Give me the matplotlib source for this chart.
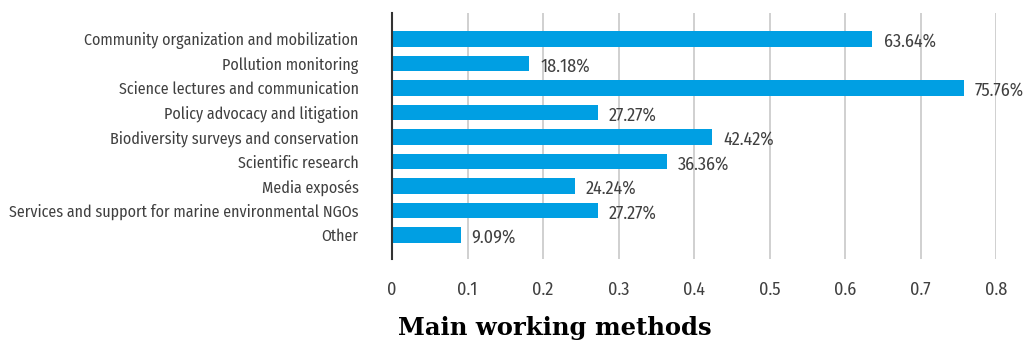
import matplotlib
matplotlib.use("Agg")
import matplotlib.pyplot as plt
from matplotlib import font_manager

categories = [
    "Community organization and mobilization",
    "Pollution monitoring",
    "Science lectures and communication",
    "Policy advocacy and litigation",
    "Biodiversity surveys and conservation",
    "Scientific research",
    "Media exposés",
    "Services and support for marine environmental NGOs",
    "Other",
]
shares = [0.6364, 0.1818, 0.7576, 0.2727, 0.4242, 0.3636, 0.2424, 0.2727, 0.0909]
ticks = [0, 0.1, 0.2, 0.3, 0.4, 0.5, 0.6, 0.7, 0.8]
tick_labels = ["0", "0.1", "0.2", "0.3", "0.4", "0.5", "0.6", "0.7", "0.8"]

fonts = {f.name for f in font_manager.fontManager.ttflist}


def pick(options, default):
    for n in options:
        if n in fonts:
            return n
    return default


narrow = pick(["Fira Sans Condensed", "PT Sans Narrow", "Roboto Condensed",
               "Open Sans Condensed", "Archivo Narrow", "Pragati Narrow"], "DejaVu Sans")

blue = "#009fe3"
txt = "#404040"

fig = plt.figure(figsize=(10.26, 3.43), dpi=100)
ax = fig.add_axes([392 / 1026, 1 - 259 / 343, 604 / 1026, 246 / 343])

y = list(range(len(categories)))
ax.barh(y, shares, height=0.65, color=blue, zorder=3)

# percentage labels just past the end of each bar
for yi, v in zip(y, shares):
    ax.annotate(f"{v * 100:.2f}%", (v, yi), xytext=(8, -2), textcoords="offset points",
                ha="left", va="center", fontsize=13, family=narrow, color=txt,
                annotation_clip=False)

ax.set_xlim(0, 0.8)
ax.set_ylim(8.98, -1.06)
ax.set_xticks(ticks)
ax.set_xticklabels(tick_labels, family=narrow, fontsize=13, color=txt)
ax.set_yticks(y)
ax.set_yticklabels(categories, family=narrow, fontsize=11.5, color=txt)
ax.tick_params(axis="x", length=0, pad=16)
ax.tick_params(axis="y", length=0, pad=24)

ax.grid(axis="x", color="#c8c8c8", linewidth=1.2, zorder=0)
for s in ["top", "right", "bottom"]:
    ax.spines[s].set_visible(False)
ax.spines["left"].set_color("#333333")
ax.spines["left"].set_linewidth(1.5)
ax.spines["left"].set_zorder(4)

fig.text(555 / 1026, 1 - 328 / 343, "Main working methods", ha="center", va="center",
         fontsize=17.5, fontweight="bold", family="DejaVu Serif", color="black")

fig.savefig("out.png", dpi=100)
